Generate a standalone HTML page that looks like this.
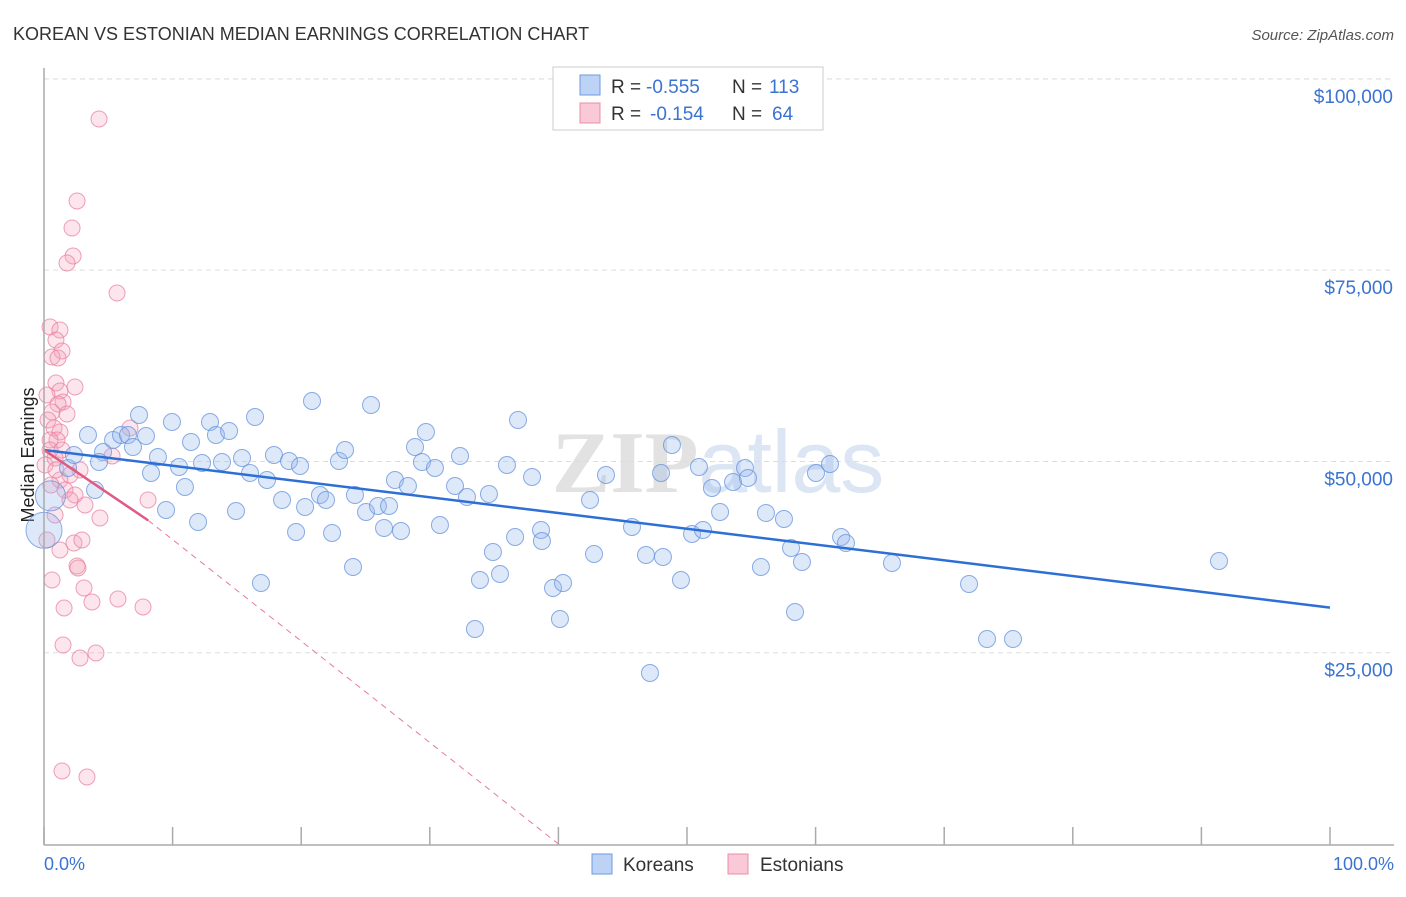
<!DOCTYPE html>
<html><head><meta charset="utf-8"><style>
body{margin:0;background:#fff;font-family:"Liberation Sans",sans-serif}
</style></head><body>
<svg id="c" width="1406" height="892" xmlns="http://www.w3.org/2000/svg">
<text x="13" y="40" font-size="18" fill="#333">KOREAN VS ESTONIAN MEDIAN EARNINGS CORRELATION CHART</text>
<text x="1394" y="40" font-size="15" fill="#555" text-anchor="end" font-style="italic">Source: ZipAtlas.com</text>
<text x="718" y="492" font-size="88" text-anchor="middle" font-family="Liberation Serif"><tspan fill="#e2e2e2" font-weight="bold">ZIP</tspan><tspan fill="#dbe5f4" font-family="Liberation Sans">atlas</tspan></text>
<text transform="translate(34,455) rotate(-90)" font-size="18" fill="#222" text-anchor="middle">Median Earnings</text>
<g id="grid"></g><g id="pts"></g><g id="lines"></g>
<line x1="44" y1="68" x2="44" y2="845" stroke="#aaa" stroke-width="1.5"/>
<line x1="44" y1="845" x2="1394" y2="845" stroke="#aaa" stroke-width="1.5"/>
<text x="44" y="870" font-size="18" fill="#3b73d1">0.0%</text>
<text x="1394" y="870" font-size="18" fill="#3b73d1" text-anchor="end">100.0%</text>
<g>
<rect x="592" y="854" width="20" height="20" fill="#bcd3f5" stroke="#6d9ae0"/>
<text x="623" y="871" font-size="19" fill="#333">Koreans</text>
<rect x="728" y="854" width="20" height="20" fill="#f9c9d7" stroke="#ec8ca8"/>
<text x="760" y="871" font-size="19" fill="#333">Estonians</text>
</g>
<g font-size="19">
<rect x="553" y="67" width="270" height="63" fill="#fff" stroke="#ccc"/>
<rect x="580" y="75" width="20" height="20" fill="#bcd3f5" stroke="#6d9ae0"/>
<rect x="580" y="103" width="20" height="20" fill="#f9c9d7" stroke="#ec8ca8"/>
<text x="611" y="93" fill="#333">R =</text>
<text x="646" y="93" fill="#3b73d1">-0.555</text>
<text x="732" y="93" fill="#333">N =</text>
<text x="769" y="93" fill="#3b73d1">113</text>
<text x="611" y="120" fill="#333">R =</text>
<text x="650" y="120" fill="#3b73d1">-0.154</text>
<text x="732" y="120" fill="#333">N =</text>
<text x="772" y="120" fill="#3b73d1">64</text>
</g>
</svg>
<script>
const yTicks=[25000,50000,75000,100000];
const yTickLabels=["$25,000","$50,000","$75,000","$100,000"];
const bluePx=[[88,435],[113,440],[121,435],[128,435],[139,415],[146,436],[133,447],[103,452],[99,462],[95,490],[68,468],[74,455],[151,473],[158,457],[166,510],[172,422],[179,467],[185,487],[191,442],[198,522],[202,463],[210,422],[216,435],[222,462],[229,431],[236,511],[242,458],[250,473],[255,417],[261,583],[267,480],[274,455],[282,500],[289,461],[296,532],[300,466],[305,507],[312,401],[320,495],[326,500],[332,533],[339,461],[345,450],[353,567],[355,495],[366,512],[371,405],[378,506],[384,528],[389,506],[395,480],[401,531],[408,486],[415,447],[422,462],[426,432],[435,468],[440,525],[455,486],[460,456],[467,497],[475,629],[480,580],[489,494],[493,552],[500,574],[507,465],[515,537],[518,420],[532,477],[541,530],[542,541],[553,588],[560,619],[563,583],[590,500],[594,554],[606,475],[632,527],[646,555],[650,673],[661,473],[663,557],[672,445],[681,580],[692,534],[699,467],[703,530],[712,488],[720,512],[733,482],[745,468],[748,478],[761,567],[766,513],[784,519],[791,548],[795,612],[802,562],[816,473],[830,464],[841,537],[846,543],[892,563],[969,584],[987,639],[1013,639],[1219,561]];
const pinkPx=[[99,119],[77,201],[72,228],[73,256],[67,263],[117,293],[50,327],[60,330],[56,340],[62,351],[52,357],[58,358],[56,383],[75,387],[60,391],[63,402],[58,404],[52,412],[48,420],[54,428],[60,432],[57,440],[50,440],[130,428],[50,450],[62,450],[55,458],[45,465],[112,456],[80,470],[70,475],[60,480],[51,485],[65,490],[75,495],[148,500],[85,505],[55,515],[100,518],[60,550],[74,543],[82,540],[77,566],[78,568],[52,580],[84,588],[118,599],[64,608],[92,602],[143,607],[63,645],[96,653],[80,658],[62,771],[87,777],[47,540],[70,500],[56,470],[47,395],[67,414]];
const koreanPct=bluePx.map(p=>+((p[0]-44)/12.86).toFixed(2));
const koreanEarn=bluePx.map(p=>Math.round((844-p[1])*130.7));
const estonianPct=pinkPx.map(p=>+((p[0]-44)/12.86).toFixed(2));
const estonianEarn=pinkPx.map(p=>Math.round((844-p[1])*130.7));
const xS=v=>44+v*12.86, yS=v=>844-v/130.7;
const NS="http://www.w3.org/2000/svg";
function mk(t,a,parent){const e=document.createElementNS(NS,t);for(const k in a)e.setAttribute(k,a[k]);parent.appendChild(e);return e;}
const grid=document.getElementById('grid'),pts=document.getElementById('pts'),lines=document.getElementById('lines');
yTicks.forEach((v,i)=>{
 const l=mk('line',{x1:44,x2:1394,y1:yS(v),y2:yS(v),stroke:'#ddd','stroke-dasharray':'5,4'},grid);
 
 
 const t=mk('text',{x:1393,y:yS(v)+24,'font-size':19,fill:'#3b73d1','text-anchor':'end'},grid);
 t.textContent=yTickLabels[i];
 
 
});
for(let i=0;i<=10;i++){const t=mk('line',{x1:xS(i*10),x2:xS(i*10),y1:827,y2:845,stroke:'#aaa','stroke-width':1.5},grid);
 
 }
const lx=mk('line',{x1:44,y1:79,x2:1394,y2:79,stroke:'#ddd','stroke-dasharray':'5,4'},grid);


estonianPct.forEach((x,i)=>{const c=mk('circle',{cx:xS(x),cy:yS(estonianEarn[i]),r:8,fill:'rgba(244,160,186,0.28)',stroke:'rgba(232,130,160,0.75)','stroke-width':1},pts);
 
 });
koreanPct.forEach((x,i)=>{const c=mk('circle',{cx:xS(x),cy:yS(koreanEarn[i]),r:8.5,fill:'rgba(150,185,235,0.32)',stroke:'rgba(100,145,220,0.75)','stroke-width':1},pts);
 
 });
[[0.5,45500,15],[0,41000,18]].forEach(p=>{const c=mk('circle',{cx:xS(p[0]),cy:yS(p[1]),r:p[2],fill:'rgba(150,185,235,0.32)',stroke:'rgba(100,145,220,0.75)'},pts);
 
 });
const t1=mk('line',{x1:xS(0),y1:yS(51500),x2:xS(100),y2:yS(30900),stroke:'#2e6fd6','stroke-width':2.5},lines);


const t2=mk('line',{x1:xS(8.1),y1:yS(42300),x2:xS(40),y2:yS(0),stroke:'#e87a9a','stroke-width':1,'stroke-dasharray':'6,5'},lines);


const t3=mk('line',{x1:xS(0),y1:yS(51500),x2:xS(8.1),y2:yS(42300),stroke:'#e05a84','stroke-width':2.5},lines);


</script>
</body></html>
